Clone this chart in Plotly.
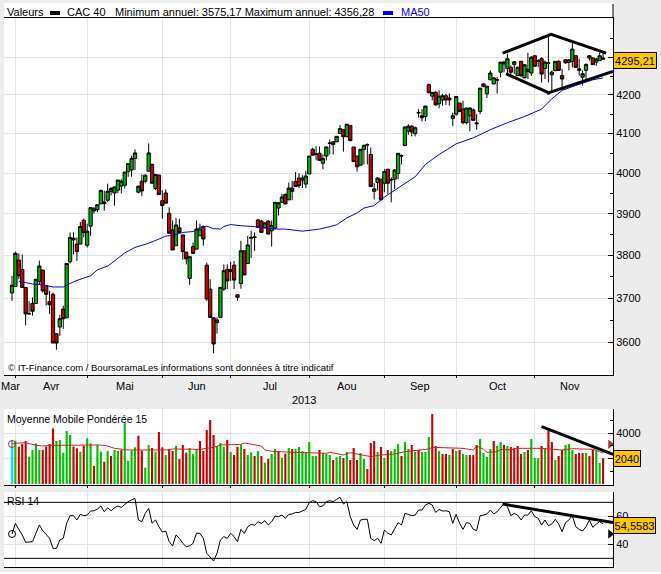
import plotly.graph_objects as go

# trading days are plotted by index, day 0 is the last session of March 2013
opens = [
    3712, 3727, 3789, 3767, 3725, 3665, 3688, 3688, 3739, 3765,
    3729, 3692, 3709, 3619, 3634, 3675, 3655, 3785, 3841, 3827,
    3827, 3884, 3824, 3870, 3907, 3910, 3924, 3925, 3933, 3955,
    3951, 3958, 3968, 3970, 4004, 4008, 4037, 3953, 3980, 3980,
    4005, 4022, 3962, 3995, 3932, 3951, 3901, 3861, 3823, 3866,
    3849, 3808, 3746, 3821, 3815, 3847, 3869, 3777, 3721, 3655,
    3644, 3656, 3721, 3767, 3762, 3777, 3708, 3734, 3811, 3781,
    3841, 3843, 3885, 3882, 3866, 3882, 3859, 3865, 3914, 3928,
    3947, 3934, 3963, 3979, 3988, 3983, 3973, 3998, 4060, 4047,
    4050, 4025, 4043, 4075, 4079, 4079, 4100, 4110, 4092, 4121,
    4066, 4043, 4020, 4060, 4071, 4047, 3955, 3977, 3985, 3975,
    4010, 3983, 3985, 3999, 4043, 4070, 4106, 4119, 4100, 4153,
    4146, 4144, 4227, 4197, 4207, 4177, 4187, 4198, 4192, 4139,
    4150, 4179, 4163, 4128, 4146, 4161, 4125, 4157, 4229, 4203,
    4240, 4229, 4239, 4260, 4287, 4270, 4273, 4281, 4251, 4289,
    4245, 4262, 4258, 4304, 4289, 4296, 4270, 4284, 4253, 4264,
    4289, 4251, 4293, 4286, 4289, 4304, 4265, 4247, 4265, 4298,
    4298, 4287, 4291, 4298,
]
highs = [
    3752, 3809, 3805, 3802, 3725, 3693, 3702, 3744, 3788, 3767,
    3729, 3717, 3713, 3619, 3662, 3683, 3781, 3855, 3855, 3843,
    3880, 3888, 3876, 3915, 3917, 3922, 3960, 3957, 3974, 3966,
    3966, 3983, 3985, 4003, 4024, 4044, 4060, 3968, 3997, 3998,
    4075, 4024, 3997, 3997, 3958, 3960, 3916, 3884, 3890, 3888,
    3849, 3808, 3797, 3831, 3884, 3876, 3872, 3783, 3744, 3655,
    3656, 3725, 3779, 3779, 3785, 3787, 3708, 3835, 3811, 3847,
    3859, 3855, 3888, 3885, 3880, 3885, 3884, 3928, 3927, 3949,
    3950, 3977, 3981, 4003, 4000, 3995, 4006, 4043, 4064, 4068,
    4067, 4047, 4068, 4085, 4081, 4093, 4122, 4110, 4124, 4121,
    4066, 4043, 4060, 4072, 4075, 4064, 3975, 3990, 3985, 4010,
    4010, 3990, 4010, 4050, 4047, 4118, 4124, 4122, 4118, 4163,
    4163, 4172, 4230, 4207, 4210, 4212, 4203, 4203, 4204, 4154,
    4196, 4180, 4185, 4166, 4168, 4165, 4150, 4218, 4231, 4223,
    4265, 4247, 4247, 4287, 4290, 4309, 4278, 4290, 4275, 4291,
    4282, 4312, 4303, 4305, 4295, 4300, 4291, 4358, 4265, 4289,
    4292, 4269, 4295, 4295, 4340, 4305, 4296, 4265, 4283, 4306,
    4300, 4298, 4313, 4313,
]
lows = [
    3694, 3727, 3744, 3725, 3638, 3662, 3660, 3688, 3733, 3713,
    3683, 3664, 3598, 3583, 3614, 3630, 3655, 3781, 3802, 3787,
    3827, 3843, 3819, 3847, 3900, 3904, 3924, 3908, 3929, 3945,
    3920, 3950, 3950, 3962, 3991, 3991, 4008, 3950, 3943, 3975,
    4005, 3975, 3958, 3947, 3888, 3926, 3853, 3813, 3823, 3855,
    3790, 3779, 3731, 3803, 3815, 3847, 3823, 3694, 3656, 3575,
    3619, 3656, 3717, 3721, 3740, 3721, 3694, 3722, 3754, 3781,
    3794, 3811, 3867, 3855, 3866, 3851, 3821, 3865, 3896, 3928,
    3924, 3934, 3933, 3967, 3963, 3963, 3963, 3998, 4045, 4032,
    4032, 4010, 4032, 4047, 4047, 4079, 4100, 4054, 4092, 4082,
    4029, 4004, 4020, 4022, 4022, 3967, 3935, 3957, 3934, 3953,
    3949, 3928, 3961, 3985, 4022, 4068, 4097, 4093, 4093, 4141,
    4131, 4132, 4204, 4186, 4172, 4165, 4172, 4174, 4172, 4119,
    4146, 4155, 4124, 4124, 4106, 4134, 4110, 4150, 4220, 4192,
    4240, 4229, 4204, 4247, 4260, 4251, 4247, 4255, 4251, 4247,
    4245, 4242, 4250, 4275, 4273, 4233, 4242, 4233, 4211, 4264,
    4263, 4220, 4283, 4265, 4273, 4273, 4251, 4225, 4242, 4291,
    4280, 4277, 4291, 4293,
]
closes = [
    3730, 3805, 3752, 3725, 3664, 3664, 3670, 3744, 3775, 3717,
    3709, 3685, 3598, 3598, 3653, 3653, 3781, 3843, 3837, 3809,
    3869, 3855, 3858, 3915, 3912, 3922, 3957, 3929, 3955, 3962,
    3966, 3983, 3980, 4003, 4024, 4037, 4051, 3968, 3956, 3995,
    4051, 3975, 3997, 3947, 3920, 3926, 3853, 3813, 3873, 3855,
    3809, 3792, 3797, 3805, 3863, 3863, 3839, 3698, 3656, 3596,
    3650, 3725, 3764, 3740, 3767, 3742, 3702, 3811, 3754, 3825,
    3843, 3844, 3867, 3855, 3878, 3851, 3872, 3928, 3927, 3941,
    3924, 3963, 3955, 3967, 3969, 3988, 3993, 4043, 4045, 4048,
    4032, 4037, 4066, 4076, 4072, 4093, 4113, 4092, 4124, 4082,
    4029, 4016, 4060, 4070, 4072, 3967, 3961, 3988, 3934, 4004,
    3975, 3984, 4008, 4050, 4044, 4117, 4119, 4104, 4115, 4154,
    4141, 4171, 4206, 4207, 4174, 4197, 4198, 4187, 4187, 4146,
    4196, 4157, 4128, 4166, 4166, 4134, 4127, 4218, 4222, 4223,
    4258, 4245, 4240, 4287, 4282, 4296, 4260, 4288, 4273, 4251,
    4280, 4268, 4300, 4276, 4290, 4255, 4287, 4285, 4260, 4289,
    4265, 4242, 4285, 4293, 4322, 4273, 4269, 4256, 4281, 4304,
    4280, 4295, 4304, 4295.21,
]
days = list(range(len(closes)))

ma50_days = [2, 6, 9, 12, 15, 18, 21, 23, 25, 28, 30, 33, 36, 38, 40, 43, 45, 47, 50, 53,
             55, 57, 59, 61, 62, 64, 67, 71, 77, 80, 85, 90, 95, 98, 101, 103, 106, 109, 112, 115,
             118, 121, 125, 130, 135, 140, 145, 150, 155, 158, 161, 165, 170, 173]
ma50_values = [3739, 3733, 3731, 3726, 3726, 3738, 3747, 3752, 3766, 3775, 3787, 3806, 3819, 3824, 3829, 3839, 3846, 3848, 3855, 3857,
               3867, 3870, 3864, 3863, 3869, 3874, 3871, 3869, 3863, 3863, 3858, 3863, 3873, 3890, 3902, 3914, 3920, 3941, 3957, 3975,
               3991, 4022, 4047, 4074, 4089, 4110, 4128, 4144, 4163, 4190, 4212, 4225, 4240, 4245]

volumes = [
    3472, 3419, 2946, 3156, 3393, 2157, 2683, 3209, 2683, 2683,
    2946, 3156, 4392, 3393, 3472, 2472, 4182, 3866, 2946, 2814,
    2551, 2998, 3603, 3209, 1420, 3077, 2551, 1762, 2604, 2209,
    2683, 2604, 2683, 4839, 1841, 2630, 2893, 3814, 2630, 1289,
    3077, 2840, 2551, 4103, 2893, 2288, 2762, 2604, 2998, 1973,
    3077, 2472, 2840, 2367, 2735, 3393, 2604, 4261, 5050, 3866,
    2998, 3235, 2946, 3472, 2525, 2288, 2919, 3077, 2762, 2288,
    2499, 2209, 2604, 2209, 1683, 1973, 2367, 2762, 2604, 2078,
    2393, 2840, 2762, 2762, 2919, 2604, 2525, 3314, 2209, 2209,
    2683, 2446, 2367, 2288, 1894, 2104, 2209, 2051, 2525, 1894,
    2840, 1894, 2446, 1973, 1184, 3235, 3393, 2525, 2919, 2051,
    2683, 2604, 2762, 3156, 2209, 3314, 2762, 3077, 2525, 2683,
    2525, 2525, 3708, 5523, 2998, 2604, 2367, 2367, 2288, 2762,
    2604, 2683, 2367, 2288, 2288, 2288, 3077, 3551, 2446, 2130,
    2762, 3393, 2998, 3314, 3077, 2998, 2919, 2840, 2998, 2367,
    2525, 2683, 3551, 2051, 2051, 2998, 2762, 4182, 3314, 1894,
    2209, 2683, 3077, 3156, 2683, 2367, 2446, 2446, 2446, 2209,
    2683, 2604, 1657, 2040,
]
# c = first session, g = up, r = down
volume_dirs = list(
    "cgrrrggggr" "rrrgggggrr" "grggrggrgr" "ggrggggrrg" "grgrrgrrgr"
    "rrgggrrrrr" "gggrgrrgrg" "grgrgrggrg" "rgrggggggg" "rgggrggrgr"
    "rrggrrrgrg" "rgggrggrgr" "gggrrgrrgr" "grggrrrggg" "grggrgrrrr"
    "grgggrgrrg" "rrgggrrrgr" "rggr"
)

wma_days = [0, 1, 4, 7, 9, 12, 26, 28, 30, 32, 34, 45, 47, 55, 56, 59, 61, 67, 68, 71,
            73, 74, 76, 82, 88, 92, 93, 96, 97, 99, 105, 108, 112, 115, 119, 122, 123, 132, 135, 136,
            138, 139, 142, 143, 146, 148, 155, 159, 161, 164, 170, 172, 173]
wma_values = [3156, 3209, 3261, 3051, 2998, 3051, 3077, 2998, 2814, 2762, 2683, 2683, 2762, 2735, 2762, 2893, 3077, 3130, 3235, 3077,
              2998, 2683, 2577, 2499, 2420, 2420, 2499, 2367, 2288, 2472, 2157, 2288, 2367, 2551, 2683, 2762, 2893, 2814, 2683, 2998,
              2735, 2499, 2551, 2735, 2683, 2814, 2814, 2762, 2683, 2788, 2735, 2551, 2420]

rsi = [
    47.4, 55.0, 50.7, 46.7, 41.4, 41.4, 41.9, 47.9, 53.8, 49.8,
    47.4, 44.3, 37.1, 37.1, 43.1, 44.3, 55.0, 60.5, 60.5, 57.4,
    61.4, 60.5, 60.9, 63.8, 64.0, 65.2, 67.4, 63.3, 66.2, 64.0,
    66.2, 67.4, 66.4, 68.6, 70.5, 71.7, 72.8, 57.4, 56.2, 62.1,
    65.7, 55.0, 57.4, 52.6, 48.8, 49.5, 41.9, 38.8, 46.7, 44.3,
    40.7, 38.3, 39.0, 40.7, 47.9, 47.9, 44.3, 33.6, 31.2, 28.1,
    33.6, 43.1, 45.5, 44.3, 47.9, 45.5, 41.9, 50.7, 47.9, 52.6,
    54.3, 53.6, 56.2, 55.0, 56.9, 53.8, 56.2, 60.2, 59.8, 60.9,
    58.6, 61.4, 61.7, 62.8, 62.8, 64.0, 65.0, 69.8, 71.2, 70.5,
    66.9, 67.4, 70.5, 71.2, 70.5, 72.1, 73.6, 68.8, 70.5, 59.8,
    53.8, 50.7, 57.4, 57.9, 57.9, 44.3, 42.6, 44.3, 40.7, 50.2,
    47.9, 46.7, 51.4, 55.5, 53.8, 62.1, 61.4, 60.5, 60.9, 64.5,
    64.5, 68.1, 69.3, 68.1, 62.8, 65.0, 63.8, 64.0, 63.3, 55.0,
    61.4, 55.0, 50.7, 55.5, 55.0, 50.7, 49.8, 60.5, 60.9, 61.7,
    64.5, 61.7, 63.3, 66.4, 69.3, 66.9, 60.5, 62.1, 60.9, 57.4,
    60.9, 60.9, 64.0, 59.8, 58.6, 53.8, 57.4, 53.3, 54.5, 57.9,
    54.5, 49.0, 55.5, 57.4, 60.5, 52.6, 50.7, 49.5, 52.6, 57.4,
    52.1, 54.5, 56.2, 54.5583,
]

# hand drawn lines on the chart
diamond_upper_days = [143.6, 157.8, 173.9]
diamond_upper_prices = [4311, 4362, 4311]
diamond_lower_left_days = [144.6, 157.5]
diamond_lower_left_prices = [4256, 4204]
diamond_lower_right_days = [156.5, 175.9]
diamond_lower_right_prices = [4204, 4262]
volume_trend_days = [155, 175.9]
volume_trend_values = [4524, 2330]
rsi_trend_days = [143.6, 175.9]
rsi_trend_values = [68.8, 55.5]

# little arrows on the right edge of the two lower panels
volume_arrow_value = 3130
rsi_arrow_value = 47.4

month_starts = [1, 22, 44, 64, 87, 109, 130, 153]
month_labels = ["Mar", "Avr", "Mai", "Jun", "Jul", "Aou", "Sep", "Oct", "Nov"]
month_label_days = [-0.3, 11.7, 33, 54, 75.5, 98, 119.4, 142, 163.3]

price_ticks = [3600, 3700, 3800, 3900, 4000, 4100, 4200, 4300]
price_tick_labels = ["3600", "3700", "3800", "3900", "4000", "4100", "4200", ""]
price_minor_ticks = [3650, 3750, 3850, 3950, 4050, 4150, 4250, 4350]
volume_ticks = [2000, 4000]
volume_tick_labels = ["", "4000"]
volume_minor_ticks = [1000, 3000, 5000]
rsi_ticks = [40, 60]
rsi_bounds = [30, 70]

W, H = 661, 574
LEFT, RIGHT = 4, 613
BG = "#ECECEC"
GRID = "#E4E4E4"
GREEN = "#00B000"
RED = "#C80000"
BADGE = "#FFC800"
FONT = "Liberation Sans"


def py(pixel):
    return 1 - pixel / H


def px(pixel):
    return pixel / W


fig = go.Figure()

fig.add_trace(go.Candlestick(
    x=days, open=opens, high=highs, low=lows, close=closes,
    increasing=dict(fillcolor=GREEN, line=dict(color="black", width=1)),
    decreasing=dict(fillcolor=RED, line=dict(color="black", width=1)),
    whiskerwidth=0, xaxis="x", yaxis="y", hoverinfo="skip",
))
fig.add_trace(go.Scatter(x=ma50_days, y=ma50_values, mode="lines", xaxis="x", yaxis="y",
                         line=dict(color="#0000E0", width=1)))
for d, p in [(diamond_upper_days, diamond_upper_prices),
             (diamond_lower_left_days, diamond_lower_left_prices),
             (diamond_lower_right_days, diamond_lower_right_prices)]:
    fig.add_trace(go.Scatter(x=d, y=p, mode="lines", xaxis="x", yaxis="y",
                             line=dict(color="black", width=3)))

# volume panel
dir_colors = {"c": "#00E8F0", "g": "#00C000", "r": "#C80000"}
fig.add_trace(go.Bar(x=days, y=volumes, width=0.62, xaxis="x2", yaxis="y2",
                     marker=dict(color=[dir_colors[v] for v in volume_dirs], line=dict(width=0))))
fig.add_trace(go.Scatter(x=wma_days, y=wma_values, mode="lines", xaxis="x2", yaxis="y2",
                         line=dict(color="#D02020", width=1)))
fig.add_trace(go.Scatter(x=wma_days[:1], y=wma_values[:1], mode="markers", xaxis="x2", yaxis="y2",
                         marker=dict(symbol="circle-open", size=7, color="#D02020", line=dict(width=1))))
fig.add_trace(go.Scatter(x=[175.1], y=[volume_arrow_value], mode="markers", xaxis="x2", yaxis="y2",
                         marker=dict(symbol="triangle-right", size=8, color="#B03030")))
fig.add_trace(go.Scatter(x=volume_trend_days, y=volume_trend_values, mode="lines", xaxis="x2", yaxis="y2",
                         line=dict(color="black", width=3)))

# RSI panel
fig.add_trace(go.Scatter(x=days, y=rsi, mode="lines", xaxis="x3", yaxis="y3",
                         line=dict(color="black", width=1)))
fig.add_trace(go.Scatter(x=days[:1], y=rsi[:1], mode="markers", xaxis="x3", yaxis="y3",
                         marker=dict(symbol="circle-open", size=7, color="black", line=dict(width=1))))
fig.add_trace(go.Scatter(x=[175.1], y=[rsi_arrow_value], mode="markers", xaxis="x3", yaxis="y3",
                         marker=dict(symbol="triangle-right", size=8, color="black")))
fig.add_trace(go.Scatter(x=rsi_trend_days, y=rsi_trend_values, mode="lines", xaxis="x3", yaxis="y3",
                         line=dict(color="black", width=3)))

x_common = dict(
    range=[-2.34, 175.9], tickmode="array", tickvals=month_starts, showticklabels=False,
    showgrid=True, gridcolor=GRID, gridwidth=1, zeroline=False, showline=True,
    linecolor="black", linewidth=1, ticks="outside", ticklen=2, tickcolor="black",
    domain=[px(LEFT), px(RIGHT)], rangeslider=dict(visible=False),
)
y_common = dict(
    side="right", showgrid=True, gridcolor=GRID, gridwidth=1, zeroline=False,
    showline=True, linecolor="black", linewidth=1, ticks="inside", ticklen=5,
    tickcolor="black", tickfont=dict(family=FONT, size=11, color="black"),
    tickmode="array",
)

fig.update_layout(
    width=W, height=H, margin=dict(l=0, r=0, t=0, b=0),
    paper_bgcolor=BG, plot_bgcolor="white", showlegend=False, barmode="overlay",
    boxgap=0.02, boxgroupgap=0.02,
    font=dict(family=FONT, size=11, color="black"),
    xaxis=dict(x_common, anchor="y", mirror=True),
    yaxis=dict(y_common, type="log", range=[3.5474, 3.6441], domain=[py(375), py(18)], anchor="x",
               tickvals=price_ticks, ticktext=price_tick_labels,
               minor=dict(tickmode="array", tickvals=price_minor_ticks, ticks="inside", ticklen=3,
                          tickcolor="black", showgrid=False)),
    xaxis2=dict(x_common, anchor="y2"),
    yaxis2=dict(y_common, range=[-79, 5917], domain=[py(485), py(409)], anchor="x2",
                tickvals=volume_ticks, ticktext=volume_tick_labels,
                minor=dict(tickmode="array", tickvals=volume_minor_ticks, ticks="inside", ticklen=3,
                           tickcolor="black", showgrid=False)),
    xaxis3=dict(x_common, anchor="y3", ticks=""),
    yaxis3=dict(y_common, range=[23.8, 77.4], domain=[py(567), py(492)], anchor="x3",
                tickvals=rsi_ticks),
)

shapes = [dict(type="rect", xref="paper", yref="paper", x0=px(LEFT), x1=px(RIGHT), y0=py(18), y1=py(3),
               fillcolor="white", line=dict(width=0), layer="below"),
          dict(type="rect", xref="paper", yref="paper", x0=0, x1=1, y0=0, y1=py(572),
               fillcolor="white", line=dict(width=0), layer="below"),
          dict(type="line", xref="paper", yref="paper", x0=px(RIGHT), x1=px(RIGHT), y0=py(18), y1=py(4),
               line=dict(color="black", width=1)),
          dict(type="rect", xref="paper", yref="paper", x0=px(50), x1=px(60), y0=py(15), y1=py(11),
               fillcolor="black", line=dict(width=0)),
          dict(type="rect", xref="paper", yref="paper", x0=px(383), x1=px(393), y0=py(15), y1=py(11),
               fillcolor="#0000F0", line=dict(width=0))]
for level in rsi_bounds:
    shapes.append(dict(type="line", xref="x3", yref="y3", x0=-2.34, x1=175.9, y0=level, y1=level,
                       line=dict(color="black", width=1)))
fig.update_layout(shapes=shapes)


def label(text, x, y, color="black", size=11):
    fig.add_annotation(text=text, xref="paper", yref="paper", x=px(x), y=py(y), xanchor="left",
                       yanchor="middle", showarrow=False, font=dict(family=FONT, size=size, color=color))


def badge(text, y, width):
    fig.add_annotation(text=text, xref="paper", yref="paper", x=px(RIGHT), y=py(y), xanchor="left",
                       yanchor="middle", showarrow=False, bgcolor=BADGE, bordercolor="black", borderwidth=1,
                       width=width, height=15, borderpad=0, align="center",
                       font=dict(family=FONT, size=11, color="black"))


label("Valeurs", 5, 12)
label("CAC 40", 65, 12)
label("Minimum annuel: 3575,17 Maximum annuel: 4356,28", 113, 12)
label("MA50", 399, 12, "#0000F0")
label("© IT-Finance.com / BoursoramaLes informations sont données à titre indicatif", 6, 367, size=9.5)
label("Moyenne Mobile Pondérée 15", 5, 419, size=10.5)
label("RSI 14", 5, 501, size=10.5)
label("2013", 290, 400)

for d, text in zip(month_label_days, month_labels):
    fig.add_annotation(text=text, xref="x", yref="paper", x=d, y=py(386), xanchor="center",
                       yanchor="middle", showarrow=False, font=dict(family=FONT, size=11))

badge(f"{closes[-1]:.2f}".replace(".", ","), 60, 42)
badge(str(volumes[-1]), 458, 26)
badge(f"{rsi[-1]:.4f}".replace(".", ","), 525, 41)

# drop the browser's default page margin so the figure sits at the window corner
fig.write_html("out.html", config={"displayModeBar": False},
               post_script="document.body.style.margin='0';")
